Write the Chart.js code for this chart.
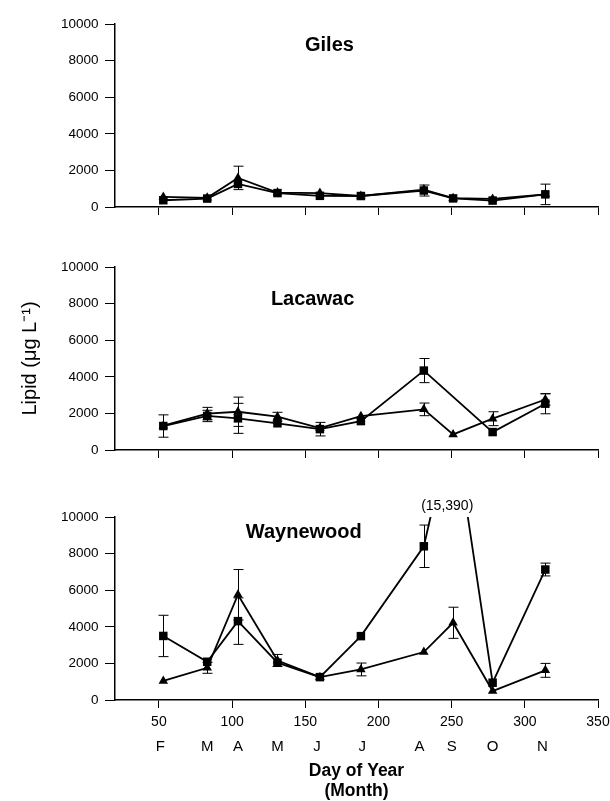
<!DOCTYPE html>
<html>
<head>
<meta charset="utf-8">
<script src="https://cdn.jsdelivr.net/npm/chart.js@4/dist/chart.umd.min.js"></script>
<style>
  html, body { margin: 0; padding: 0; background: #fff; }
  body { width: 610px; height: 801px; position: relative; overflow: hidden; }
  canvas { position: absolute; left: 0; }
</style>
</head>
<body>
<canvas id="c1" width="610" height="227" style="top:0px"></canvas>
<canvas id="c2" width="610" height="227" style="top:243px"></canvas>
<canvas id="c3" width="610" height="308" style="top:493px"></canvas>
<script>
// ---------- data ----------
const days = [53, 83, 104, 131, 160, 188, 231, 251, 278, 314];
const xTicks = [50, 100, 150, 200, 250, 300, 350];
const yTicks = [0, 2000, 4000, 6000, 8000, 10000];
const monthDays = [51, 83, 104, 131, 158, 189, 228, 250, 278, 312];
const monthLabels = ['F', 'M', 'A', 'M', 'J', 'J', 'A', 'S', 'O', 'N'];

const gilesSq     = [370, 460, 1260, 760, 610, 600, 900, 470, 350, 690];
const gilesSqErr  = [0, 0, 0, 0, 0, 0, 300, 0, 0, 560];
const gilesTri    = [550, 500, 1590, 790, 760, 600, 950, 480, 440, 690];
const gilesTriErr = [0, 0, 640, 0, 0, 0, 0, 0, 0, 0];

const lacSq     = [1310, 1860, 1730, 1460, 1140, 1580, 4340, null, 980, 2530];
const lacSqErr  = [610, 310, 820, 0, 370, 0, 660, 0, 0, 550];
const lacTri    = [1330, 1990, 2090, 1820, 1200, 1850, 2220, 850, 1710, 2760];
const lacTriErr = [0, 340, 800, 240, 0, 0, 345, 0, 380, 310];

const wSq     = [3500, 2090, 4310, 2040, 1250, 3490, 8400, 15390, 945, 7130];
const wSqErr  = [1130, 0, 1270, 0, 0, 0, 1160, 0, 0, 350];
const wTri    = [1040, 1760, 5750, 2160, 1250, 1670, 2620, 4220, 490, 1620];
const wTriErr = [0, 300, 1380, 330, 0, 350, 0, 850, 0, 380];

const panelTitles = ['Giles', 'Lacawac', 'Waynewood'];
const offChartNote = '(15,390)';

// ---------- setup ----------
const FONT = "'Liberation Sans', Arial, Helvetica, sans-serif";
Chart.defaults.font.family = FONT;
Chart.defaults.color = '#000';

const decor = {
  id: 'decor',
  afterDatasetsDraw(chart, args, opts) {
    const { ctx } = chart;
    const x = chart.scales.x, y = chart.scales.y;
    ctx.save();
    ctx.strokeStyle = '#000';
    ctx.lineWidth = 1;
    (opts.errors || []).forEach(({ vals, errs }) => {
      vals.forEach((v, i) => {
        const e = errs[i];
        if (v == null || !e) return;
        const px = Math.round(x.getPixelForValue(days[i])) + 0.5;
        const y1 = y.getPixelForValue(v - e), y2 = y.getPixelForValue(v + e);
        ctx.beginPath();
        ctx.moveTo(px, y1); ctx.lineTo(px, y2);
        ctx.moveTo(px - 5, y1); ctx.lineTo(px + 5, y1);
        ctx.moveTo(px - 5, y2); ctx.lineTo(px + 5, y2);
        ctx.stroke();
      });
    });
    (opts.labels || []).forEach(l => {
      ctx.font = l.font;
      ctx.fillStyle = '#000';
      ctx.textAlign = 'center';
      ctx.textBaseline = 'middle';
      ctx.fillText(l.text, x.getPixelForValue(l.x), y.getPixelForValue(l.y));
    });
    ctx.restore();
  }
};

function toPoints(vals) {
  return vals.map((v, i) => ({ x: days[i], y: v }));
}

function makeChart(id, sq, tri, cfg) {
  const scales = {
    x: {
      type: 'linear', position: 'bottom', min: 20, max: 350, weight: 0,
      afterBuildTicks: s => { s.ticks = xTicks.map(v => ({ value: v })); },
      afterFit: s => { s.height = cfg.xHeight; s.paddingLeft = 0; s.paddingRight = 0; },
      ticks: { display: cfg.showX, font: { size: 14 }, color: '#000', padding: 6, maxRotation: 0,
               callback: v => String(v) },
      grid: { display: true, drawOnChartArea: false, drawTicks: true, tickLength: 8, color: '#000', lineWidth: 1 },
      border: { display: true, color: '#000', width: 1.5 }
    },
    y: {
      type: 'linear', min: 0, max: 10000,
      afterBuildTicks: s => { s.ticks = yTicks.map(v => ({ value: v })); },
      afterFit: s => { s.width = 115; s.paddingTop = 0; s.paddingBottom = 0; },
      ticks: { font: { size: 13.5 }, color: '#000', padding: 6.5, callback: v => String(v) },
      grid: { display: true, drawOnChartArea: false, drawTicks: true, tickLength: 10, color: '#000', lineWidth: 1 },
      border: { display: true, color: '#000', width: 1.5 },
      title: cfg.yTitle ? { display: true, text: cfg.yTitle, font: { size: 20 }, color: '#000', padding: { top: 18, bottom: 0 } } : { display: false }
    }
  };
  if (cfg.showX) {
    scales.x2 = {
      type: 'linear', position: 'bottom', min: 20, max: 350, weight: 1,
      afterBuildTicks: s => { s.ticks = monthDays.map(v => ({ value: v })); },
      afterFit: s => { s.height = 71; s.paddingLeft = 0; s.paddingRight = 0; },
      ticks: { font: { size: 15 }, color: '#000', padding: 8, maxRotation: 0, autoSkip: false,
               callback: (v, i) => monthLabels[i] },
      grid: { display: false, drawTicks: false },
      border: { display: false },
      title: { display: true, text: ['Day of Year', '(Month)'], font: { size: 17.5, weight: 'bold', lineHeight: 1.12 }, color: '#000', padding: { top: 0, bottom: 0 } }
    };
  }
  return new Chart(document.getElementById(id), {
    type: 'line',
    data: {
      datasets: [
        { label: 'square', data: toPoints(sq), borderColor: '#000', backgroundColor: '#000', borderWidth: 1.8,
          pointStyle: 'rect', pointRadius: 6, pointBorderWidth: 0, tension: 0, spanGaps: true },
        { label: 'triangle', data: toPoints(tri), borderColor: '#000', backgroundColor: '#000', borderWidth: 1.8,
          pointStyle: 'triangle', pointRadius: 5.5, pointBorderWidth: 0, tension: 0, spanGaps: true }
      ]
    },
    options: {
      responsive: false, animation: false, devicePixelRatio: 1,
      layout: { padding: { top: 24, right: 12, left: 0, bottom: 0 } },
      scales,
      plugins: {
        legend: { display: false }, tooltip: { enabled: false }, title: { display: false },
        decor: {
          errors: [{ vals: sq, errs: cfg.sqErr }, { vals: tri, errs: cfg.triErr }],
          labels: cfg.labels
        }
      }
    },
    plugins: [decor]
  });
}

makeChart('c1', gilesSq, gilesTri, {
  sqErr: gilesSqErr, triErr: gilesTriErr, showX: false, xHeight: 20,
  labels: [{ text: panelTitles[0], x: 166.5, y: 8800, font: 'bold 20px ' + FONT }]
});
makeChart('c2', lacSq, lacTri, {
  sqErr: lacSqErr, triErr: lacTriErr, showX: false, xHeight: 20,
  yTitle: 'Lipid (\u03BCg L\u207B\u00B9)',
  labels: [{ text: panelTitles[1], x: 155, y: 8200, font: 'bold 20px ' + FONT }]
});
makeChart('c3', wSq, wTri, {
  sqErr: wSqErr, triErr: wTriErr, showX: true, xHeight: 30,
  labels: [
    { text: panelTitles[2], x: 149, y: 9180, font: 'bold 20px ' + FONT },
    { text: offChartNote, x: 247, y: 10580, font: '14px ' + FONT }
  ]
});
</script>
</body>
</html>
